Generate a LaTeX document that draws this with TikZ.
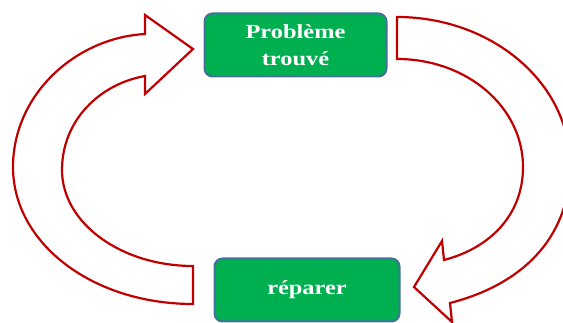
\documentclass[tikz,border=0pt]{standalone}
\usepackage{fontspec}
\setmainfont{Liberation Serif}
\definecolor{boxgreen}{HTML}{00B050}
\definecolor{boxedge}{HTML}{41719C}
\definecolor{arrowred}{HTML}{C00000}
\begin{document}
\begin{tikzpicture}[x=1pt,y=-1pt,
  stagebox/.style={draw=boxedge, line width=2pt, fill=boxgreen, rounded corners=8pt,
    text=white, font=\bfseries\fontsize{20}{27}\selectfont, align=center, inner sep=0pt},
  blockarrow/.style={draw=arrowred, line width=2.2pt, fill=white, line join=miter}]
\useasboundingbox (0,0) rectangle (563,323);

% the two stages of the cycle
\node[stagebox, minimum width=182pt, minimum height=63pt] (found) at (295.5,45)
  {\scalebox{1.22}[1]{Problème}\\\scalebox{1.22}[1]{trouvé}};
\node[stagebox, minimum width=185pt, minimum height=63pt] (fix) at (307,290)
  {\scalebox{1.22}[1]{réparer}};

% left block arrow: from the repair stage back up to the problem stage
\draw[blockarrow] (193,266) .. controls (121,266) and (62,223) .. (62,170)
  .. controls (62,120) and (100,84) .. (145,76)
  -- (145,94) -- (193,49) -- (145,15) -- (145,34)
  .. controls (75,38) and (13,95) .. (13,167)
  .. controls (13,243) and (92,304) .. (193,304) -- cycle;

% right block arrow: from the problem stage down to the repair stage
\draw[blockarrow] (397,59) .. controls (467,59) and (523,107) .. (523,167)
  .. controls (523,215) and (490,248) .. (444,260)
  -- (442,241) -- (414,287) -- (452,322) -- (450,303)
  .. controls (520,285) and (570,240) .. (570,165)
  .. controls (570,83) and (492,17) .. (397,17) -- cycle;
\end{tikzpicture}
\end{document}
